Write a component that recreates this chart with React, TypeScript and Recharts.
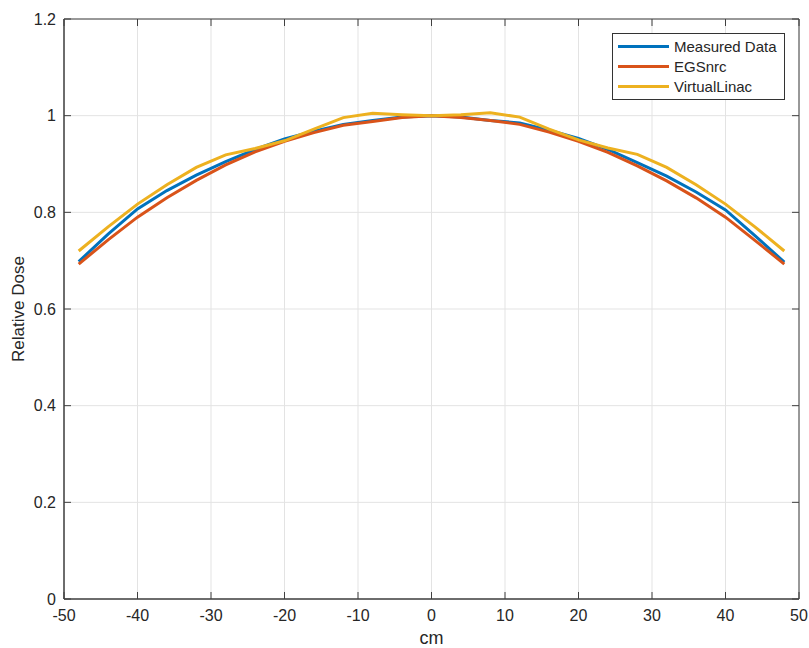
import React from 'react';
import { LineChart, Line, XAxis, YAxis, CartesianGrid, ReferenceArea } from 'recharts';

// Beam profile: relative dose across the field (cm)
const positions = [-48, -44, -40, -36, -32, -28, -24, -20, -16, -12, -8, -4, 0, 4, 8, 12, 16, 20, 24, 28, 32, 36, 40, 44, 48];

const measuredData = [0.698, 0.755, 0.807, 0.845, 0.877, 0.905, 0.930, 0.952, 0.968, 0.982, 0.990, 0.997, 1.0,
  0.997, 0.990, 0.985, 0.970, 0.953, 0.930, 0.903, 0.875, 0.842, 0.805, 0.752, 0.697];

const egsnrc = [0.693, 0.743, 0.790, 0.830, 0.866, 0.898, 0.925, 0.947, 0.965, 0.980, 0.988, 0.996, 1.0,
  0.996, 0.990, 0.982, 0.966, 0.947, 0.924, 0.896, 0.865, 0.830, 0.790, 0.742, 0.693];

const virtualLinac = [0.720, 0.770, 0.817, 0.857, 0.893, 0.919, 0.932, 0.948, 0.972, 0.996, 1.005, 1.002, 1.0,
  1.002, 1.006, 0.997, 0.972, 0.950, 0.933, 0.920, 0.893, 0.857, 0.817, 0.770, 0.720];

const xTicks = [-50, -40, -30, -20, -10, 0, 10, 20, 30, 40, 50];
const yTicks = [0, 0.2, 0.4, 0.6, 0.8, 1, 1.2];

const series = [
  { key: 'measured', name: 'Measured Data', color: '#0072BD' },
  { key: 'egs', name: 'EGSnrc', color: '#D95319' },
  { key: 'vl', name: 'VirtualLinac', color: '#EDB120' },
];

const chartData = positions.map((x, i) => ({
  x,
  measured: measuredData[i],
  egs: egsnrc[i],
  vl: virtualLinac[i],
}));

const FONT = '"Liberation Sans", Arial, Helvetica, sans-serif';
const AXIS_COLOR = '#404040';
const TEXT_COLOR = '#262626';

// plot box (pixels inside the svg)
const PLOT_LEFT = 64;
const PLOT_RIGHT = 799;
const PLOT_TOP = 19;
const PLOT_BOTTOM = 599;
const TICK_LEN = 7;

const XTick = (props: any) => {
  const { x, payload } = props;
  return (
    <g>
      <line x1={x} x2={x} y1={PLOT_BOTTOM} y2={PLOT_BOTTOM - TICK_LEN} stroke={AXIS_COLOR} />
      <line x1={x} x2={x} y1={PLOT_TOP} y2={PLOT_TOP + TICK_LEN} stroke={AXIS_COLOR} />
      <text x={x} y={PLOT_BOTTOM + 22} textAnchor="middle" fontSize={16} fontFamily={FONT} fill={TEXT_COLOR}>
        {payload.value}
      </text>
    </g>
  );
};

const YTick = (props: any) => {
  const { y, payload } = props;
  return (
    <g>
      <line x1={PLOT_LEFT} x2={PLOT_LEFT + TICK_LEN} y1={y} y2={y} stroke={AXIS_COLOR} />
      <line x1={PLOT_RIGHT} x2={PLOT_RIGHT - TICK_LEN} y1={y} y2={y} stroke={AXIS_COLOR} />
      <text x={PLOT_LEFT - 8} y={y} dy="0.36em" textAnchor="end" fontSize={16} fontFamily={FONT} fill={TEXT_COLOR}>
        {String(payload.value)}
      </text>
    </g>
  );
};

const YLabel = () => (
  <text
    x={24}
    y={(PLOT_TOP + PLOT_BOTTOM) / 2}
    transform={`rotate(-90, 24, ${(PLOT_TOP + PLOT_BOTTOM) / 2})`}
    textAnchor="middle"
    fontSize={17}
    fontFamily={FONT}
    fill={TEXT_COLOR}
  >
    Relative Dose
  </text>
);

const XLabel = () => (
  <text x={(PLOT_LEFT + PLOT_RIGHT) / 2} y={644} textAnchor="middle" fontSize={18} fontFamily={FONT} fill={TEXT_COLOR}>
    cm
  </text>
);

const LegendBox = () => (
  <div
    style={{
      position: 'absolute',
      left: 612,
      top: 33,
      border: '1px solid #333',
      background: '#fff',
      padding: '2px 6px 3px 5px',
      width: 160,
      fontFamily: FONT,
      fontSize: 15,
      color: TEXT_COLOR,
    }}
  >
    {series.map(s => (
      <div key={s.key} style={{ display: 'flex', alignItems: 'center', height: 20 }}>
        <span style={{ display: 'inline-block', width: 51, height: 3, background: s.color, marginRight: 5 }} />
        <span>{s.name}</span>
      </div>
    ))}
  </div>
);

const App: React.FC = () => {
  return (
    <div style={{ position: 'absolute', left: 0, top: 0, width: 809, height: 648, background: '#fff' }}>
      <LineChart
        width={809}
        height={648}
        data={chartData}
        margin={{ top: PLOT_TOP, right: 809 - PLOT_RIGHT, left: 0, bottom: 0 }}
      >
        <CartesianGrid stroke="#e3e3e3" strokeWidth={1} />
        <XAxis
          type="number"
          dataKey="x"
          domain={[-50, 50]}
          ticks={xTicks}
          height={648 - PLOT_BOTTOM}
          tickSize={0}
          tickLine={false}
          axisLine={{ stroke: AXIS_COLOR }}
          tick={<XTick />}
          interval={0}
          label={<XLabel />}
        />
        <YAxis
          type="number"
          domain={[0, 1.2]}
          ticks={yTicks}
          width={PLOT_LEFT}
          tickSize={0}
          tickLine={false}
          axisLine={{ stroke: AXIS_COLOR }}
          tick={<YTick />}
          interval={0}
          label={<YLabel />}
        />
        <ReferenceArea x1={-50} x2={50} y1={0} y2={1.2} fill="none" stroke={AXIS_COLOR} strokeWidth={1} />
        {series.map(s => (
          <Line
            key={s.key}
            type="linear"
            dataKey={s.key}
            name={s.name}
            stroke={s.color}
            strokeWidth={3}
            dot={false}
            activeDot={false}
            isAnimationActive={false}
          />
        ))}
      </LineChart>
      <LegendBox />
    </div>
  );
};

export default App;
